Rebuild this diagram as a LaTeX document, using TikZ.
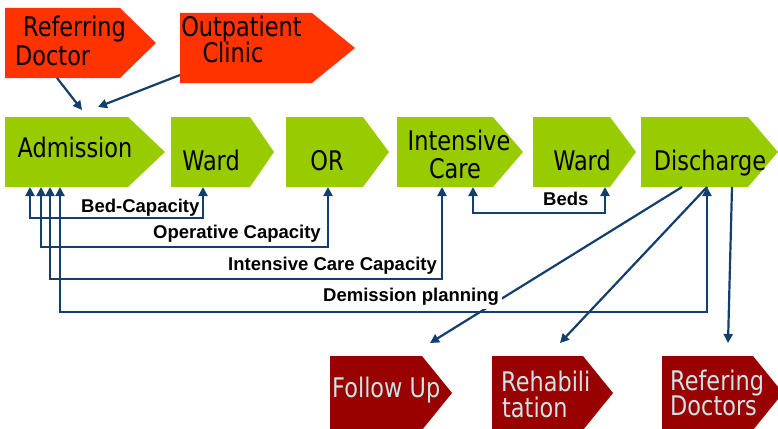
\documentclass[tikz,border=0pt]{standalone}
\usepackage{fontspec}
\usetikzlibrary{arrows.meta,calc}
\newfontfamily\boxfont[FakeStretch=0.83]{DejaVu Sans}
\newfontfamily\labelfont{Liberation Sans}
\definecolor{flowgreen}{HTML}{99CC00}
\definecolor{sourcered}{HTML}{FF3300}
\definecolor{exitred}{HTML}{990000}
\definecolor{exittext}{HTML}{CCE4E6}
\definecolor{linkblue}{HTML}{123F6E}

\tikzset{
  box/.style={draw=none, inner sep=0pt, outer sep=0pt},
  boxtext/.style={font=\boxfont\fontsize{27}{28}\selectfont, inner sep=0pt, anchor=base},
  captext/.style={font=\labelfont\bfseries\fontsize{18.5}{21}\selectfont, inner sep=0pt, anchor=base west},
  link/.style={draw=linkblue, line width=2.2pt, -{Triangle[length=9pt,width=9pt]}},
  twoway/.style={draw=linkblue, line width=2.2pt, {Triangle[length=9pt,width=9pt]}-{Triangle[length=9pt,width=9pt]}},
}

% pentagon arrow box: name, left, top, right, bottom, tip length, colour
\newcommand\chevron[7]{%
  \node[box, minimum width={#4pt-#2pt}, minimum height={#5pt-#3pt}] (#1)
    at ({(#2+#4)/2},{(#3+#5)/2}) {};
  \fill[#7] (#1.north west) -- ([xshift=-#6pt]#1.north east) -- (#1.east)
    -- ([xshift=-#6pt]#1.south east) -- (#1.south west) -- cycle;}

\begin{document}
\begin{tikzpicture}[x=1pt,y=-1pt]
\useasboundingbox (0,0) rectangle (778,428);
\clip (0,0) rectangle (778,428);

% sources
\chevron{refdoc}{5}{8}{156}{78}{36}{sourcered}
\chevron{outpat}{180}{13}{355}{83}{43}{sourcered}

% main flow
\chevron{adm}{5}{117}{165}{187}{37}{flowgreen}
\chevron{ward1}{171}{117}{274}{187}{24}{flowgreen}
\chevron{orb}{286}{117}{389}{187}{26}{flowgreen}
\chevron{ic}{397}{117}{523}{187}{30}{flowgreen}
\chevron{ward2}{533}{117}{636}{187}{26}{flowgreen}
\chevron{dis}{641}{117}{778}{187}{30}{flowgreen}

% exits
\chevron{fu}{330}{356}{452}{430}{30}{exitred}
\chevron{reh}{492}{356}{613}{430}{30}{exitred}
\chevron{rdoc}{662}{356}{783}{430}{30}{exitred}

% box texts
\node[boxtext, anchor=base west] (refT1) at (23,37) {Referring};
\node[boxtext, anchor=base west] (refT2) at (15,65) {Doctor};
\node[boxtext] (outT1) at (241.5,37) {Outpatient};
\node[boxtext] (outT2) at (233,63) {Clinic};

\node[boxtext] (admT) at (75,157) {Admission};
\node[boxtext] (ward1T) at (211,170) {Ward};
\node[boxtext] (orT) at (327,170) {OR};
\node[boxtext] (icT1) at (459,150) {Intensive};
\node[boxtext] (icT2) at (455,178) {Care};
\node[boxtext] (ward2T) at (582,170) {Ward};
\node[boxtext] (disT) at (710,170) {Discharge};

\node[boxtext, anchor=base west, text=exittext] (fuT) at (332,397) {Follow Up};
\node[boxtext, anchor=base west, text=exittext] (rehT1) at (501,391) {Rehabili};
\node[boxtext, anchor=base west, text=exittext] (rehT2) at (502,417) {tation};
\node[boxtext, anchor=base west, text=exittext] (rdocT1) at (670,390) {Refering};
\node[boxtext, anchor=base west, text=exittext] (rdocT2) at (670,415) {Doctors};

% arrivals
\coordinate (admInA) at (82,110);
\coordinate (admInB) at (98,107);
\draw[link] ([xshift=52pt]refdoc.south west) -- (admInA);
\draw[link] ($(outpat.south west)+(0,-8)$) -- (admInB);

% capacity feedback
\draw[twoway] ([xshift=25pt]adm.south west) -- ++(0,31) -| ([xshift=32pt]ward1.south west);
\draw[twoway] ([xshift=36pt]adm.south west) -- ++(0,60) -| ([xshift=42pt]orb.south west);
\draw[twoway] ([xshift=45pt]adm.south west) -- ++(0,92) -| ([xshift=45pt]ic.south west);
\draw[twoway] ([xshift=76pt]ic.south west) -- ++(0,26) -| ([xshift=72pt]ward2.south west);

\node[captext] (bedL) at (81,212.7) {Bed-Capacity};
\node[captext] (opL) at (153,238) {Operative Capacity};
\node[captext] (icL) at (228,270) {Intensive Care Capacity};
\node[captext] (bedsL) at (543,205) {Beds};

% discharge routes
\coordinate (fuIn) at (430,343);
\coordinate (rehIn) at (560,343);
\coordinate (rdocIn) at (728,343);
\draw[link] ([xshift=41pt]dis.south west) -- (fuIn);
\draw[link] ([xshift=66pt]dis.south west) -- (rehIn);
\draw[link] ([xshift=91pt]dis.south west) -- (rdocIn);

\node[captext, fill=white, inner xsep=3pt, inner ysep=4pt] (demL) at (320,301) {Demission planning};
\draw[twoway] ([xshift=55pt]adm.south west) -- ++(0,125) -| ([xshift=66pt]dis.south west);
\end{tikzpicture}
\end{document}
